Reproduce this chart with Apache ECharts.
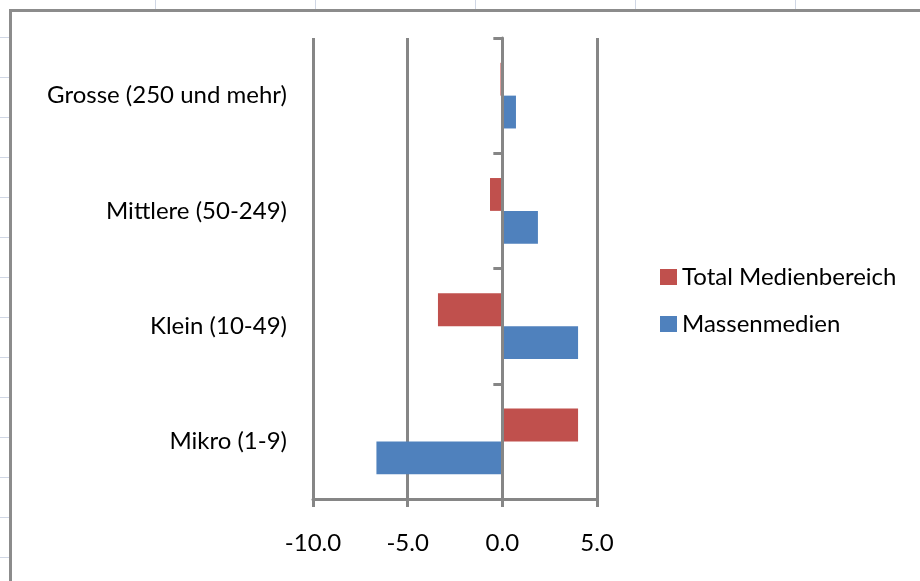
<!DOCTYPE html>
<html>
<head>
<meta charset="utf-8">
<script src="https://cdn.jsdelivr.net/npm/echarts@6/dist/echarts.min.js"></script>
<style>
html,body{margin:0;padding:0;background:#fff;}
#c{width:920px;height:581px;}
</style>
</head>
<body>
<div id="c"></div>
<script>
const categories = ['Mikro (1-9)', 'Klein (10-49)', 'Mittlere (50-249)', 'Grosse (250 und mehr)'];
const seriesNames = ['Total Medienbereich', 'Massenmedien'];
const totalMedienbereich = [4.0, -3.4, -0.65, -0.1];
const massenmedien = [-6.65, 4.0, 1.88, 0.72];
const xTicks = [-10, -5, 0, 5];

const FONT = 'Lato';
const FS = 24;
const GRAY = '#868686';

const chart = echarts.init(document.getElementById('c'), null, {renderer: 'canvas'});

const deco = [];
// worksheet border of the chart area
deco.push({type: 'rect', shape: {x: 10.5, y: 10.5, width: 930, height: 600}, style: {fill: '#fff', stroke: '#8c8c8c', lineWidth: 3}, z: -10, silent: true});
// faint spreadsheet cell lines outside the chart area
[155.5, 315.5, 475.5, 635.5, 795.5].forEach(x => deco.push({type: 'line', shape: {x1: x, y1: 0, x2: x, y2: 9}, style: {stroke: '#d0d7e5', lineWidth: 1}, z: -11, silent: true}));
for (let y = 37.5; y < 581; y += 40) deco.push({type: 'line', shape: {x1: 0, y1: y, x2: 9, y2: y}, style: {stroke: '#d0d7e5', lineWidth: 1}, z: -11, silent: true});

chart.setOption({
  animation: false,
  backgroundColor: '#fff',
  textStyle: {fontFamily: FONT},
  graphic: deco,
  grid: {left: 313, right: 323, top: 38, bottom: 82, containLabel: false},
  legend: {
    data: seriesNames,
    orient: 'vertical',
    left: 655,
    top: 260,
    itemWidth: 17,
    itemHeight: 16,
    itemGap: 23,
    icon: 'rect',
    textStyle: {fontFamily: FONT, fontSize: FS, color: '#000'},
    selectedMode: false
  },
  xAxis: {
    type: 'value',
    min: -10, max: 5, interval: 5,
    axisLine: {show: true, onZero: false, lineStyle: {color: GRAY, width: 3}},
    axisTick: {show: true, inside: false, length: 8, lineStyle: {color: GRAY, width: 3}},
    splitLine: {show: true, lineStyle: {color: GRAY, width: 3}},
    axisLabel: {
      fontFamily: FONT, fontSize: FS, color: '#000', margin: 32,
      formatter: v => xTicks.includes(v) ? v.toFixed(1) : ''
    }
  },
  yAxis: [
    {
      type: 'category',
      data: categories,
      z: 5,
      axisLine: {show: true, onZero: true, lineStyle: {color: GRAY, width: 3}},
      axisTick: {show: true, inside: false, length: 9, lineStyle: {color: GRAY, width: 3}},
      axisLabel: {show: false},
      splitLine: {show: false}
    },
    {
      type: 'category',
      data: categories,
      position: 'left',
      axisLine: {show: false, onZero: false},
      axisTick: {show: false},
      splitLine: {show: false},
      axisLabel: {fontFamily: FONT, fontSize: FS, color: '#000', margin: 26}
    }
  ],
  series: [
    {
      name: 'Total Medienbereich', type: 'bar', yAxisIndex: 0,
      data: totalMedienbereich,
      itemStyle: {color: '#C0504D'},
      barGap: '0%', barCategoryGap: '43%'
    },
    {
      name: 'Massenmedien', type: 'bar', yAxisIndex: 0,
      data: massenmedien,
      itemStyle: {color: '#4F81BD'},
      barGap: '0%', barCategoryGap: '43%'
    }
  ]
});
</script>
</body>
</html>
